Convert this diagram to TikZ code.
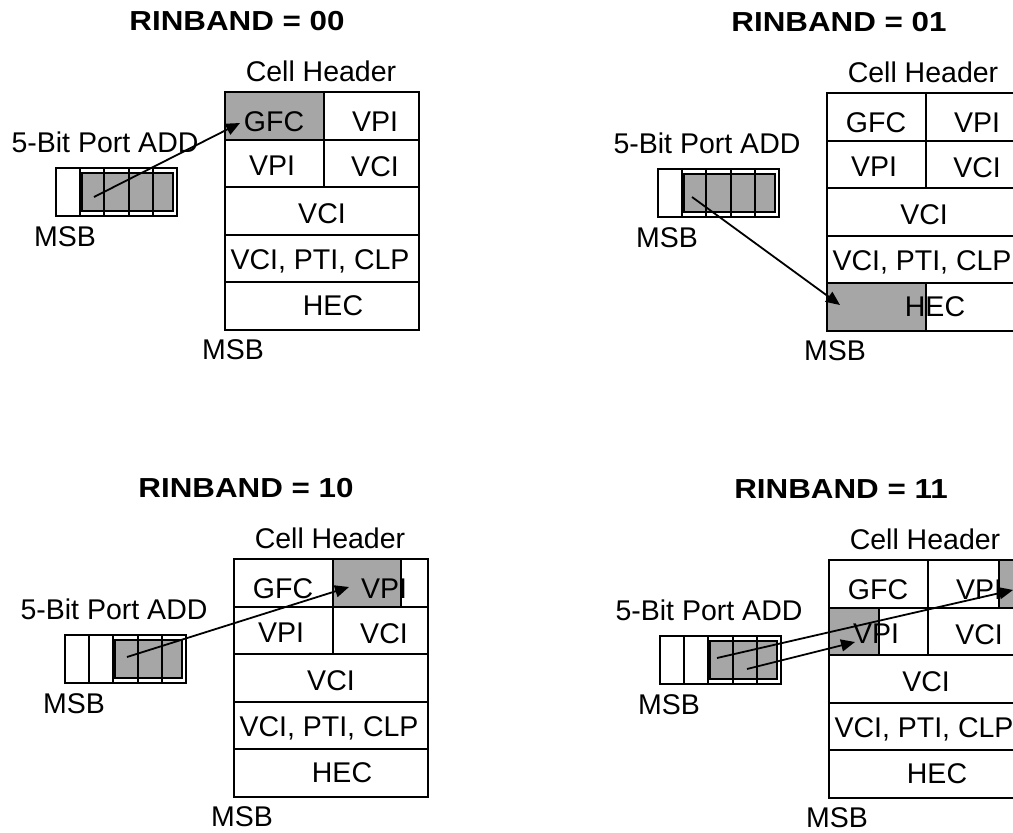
\documentclass[tikz,border=0pt]{standalone}
\usepackage{fontspec}
\setmainfont{Liberation Sans}
\usetikzlibrary{arrows.meta}

\tikzset{
  lbl/.style={font=\fontsize{28.5}{32}\selectfont, inner sep=0pt,
    text height=20.4pt, text depth=0pt, anchor=center},
  ttl/.style={font=\fontsize{27.5}{32}\selectfont\bfseries, inner sep=0pt,
    text height=19.7pt, text depth=0pt, anchor=center},
  gridline/.style={line width=2pt},
  shaded/.style={fill=black!35, draw=black, line width=2pt},
  regcell/.style={draw, line width=2pt, minimum width=24.2pt,
    minimum height=48pt, inner sep=0pt, anchor=north west},
  link/.style={line width=1.8pt, -{Triangle[length=14pt,width=12pt]}},
}

% Cell header table with its labels; origin = top-left corner of the table
\newcommand\hdrtable[2]{%
  \draw[gridline] (0,0) rectangle (194,238);
  \foreach \yy in {47.6,95.2,142.8,190.4} \draw[gridline] (0,\yy) -- (194,\yy);
  \draw[gridline] (99,0) -- (99,95.2);
  \node[ttl] (#1title) at (12,-71) {\scalebox{1.14}[1]{#2}};
  \node[lbl] (#1hdr) at (96,-21) {Cell Header};
  \node[lbl] (#1gfc) at (49,29) {GFC};
  \node[lbl] (#1vpia) at (150,29.5) {VPI};
  \node[lbl] (#1vpib) at (47,73.5) {VPI};
  \node[lbl] (#1vcia) at (150,74.5) {VCI};
  \node[lbl] (#1vcib) at (97,121) {VCI};
  \node[lbl] (#1clp) at (95,167.5) {VCI, PTI, CLP};
  \node[lbl] (#1hec) at (108,213.5) {HEC};
  \node[lbl] (#1msbb) at (8,257) {MSB};
}

% 5-bit port address register; #2 = number of unshaded leading bits
\newcommand\portregister[2]{%
  \node[lbl] (#1port) at (-120,50) {5-Bit Port ADD};
  \draw[shaded] ({-170+24.2*#2+3},80.5) rectangle (-52.5,118.5);
  \foreach \i in {1,...,5}
    \node[regcell] (#1r\i) at ({-170+24.2*(\i-1)},75) {};
  \node[lbl] (#1msba) at (-160,144) {MSB};
}

\begin{document}
\begin{tikzpicture}[x=1pt,y=-1pt]
\clip (0,0) rectangle (1013,833);
\fill[white] (0,0) rectangle (1013,833);

% RINBAND = 00
\begin{scope}[shift={(225,92)}]
  \draw[shaded] (0,0) rectangle (99,47.6);
  \hdrtable{a}{RINBAND = 00}
  \portregister{a}{1}
  \coordinate (afrom) at (-131,105);
  \coordinate (ato) at (15,31);
  \draw[link] (afrom) -- (ato);
\end{scope}

% RINBAND = 01
\begin{scope}[shift={(827,93)}]
  \draw[shaded] (0,190.4) rectangle (99,238);
  \hdrtable{b}{RINBAND = 01}
  \portregister{b}{1}
  \coordinate (bfrom) at (-135,104);
  \coordinate (bto) at (13,212);
  \draw[link] (bfrom) -- (bto);
\end{scope}

% RINBAND = 10
\begin{scope}[shift={(234,559)}]
  \draw[shaded] (99,0) rectangle (167,47.6);
  \hdrtable{c}{RINBAND = 10}
  \portregister{c}{2}
  \coordinate (cfrom) at (-107,98);
  \coordinate (cto) at (115,28);
  \draw[link] (cfrom) -- (cto);
\end{scope}

% RINBAND = 11
\begin{scope}[shift={(829,560)}]
  \draw[shaded] (170,0) rectangle (194,47.6);
  \draw[shaded] (0,47.6) rectangle (50,95.2);
  \hdrtable{d}{RINBAND = 11}
  \portregister{d}{2}
  \coordinate (dfroma) at (-112,98);
  \coordinate (dtoa) at (184,30);
  \coordinate (dfromb) at (-82,109);
  \coordinate (dtob) at (26,82);
  \draw[link] (dfroma) -- (dtoa);
  \draw[link] (dfromb) -- (dtob);
\end{scope}
\end{tikzpicture}
\end{document}
